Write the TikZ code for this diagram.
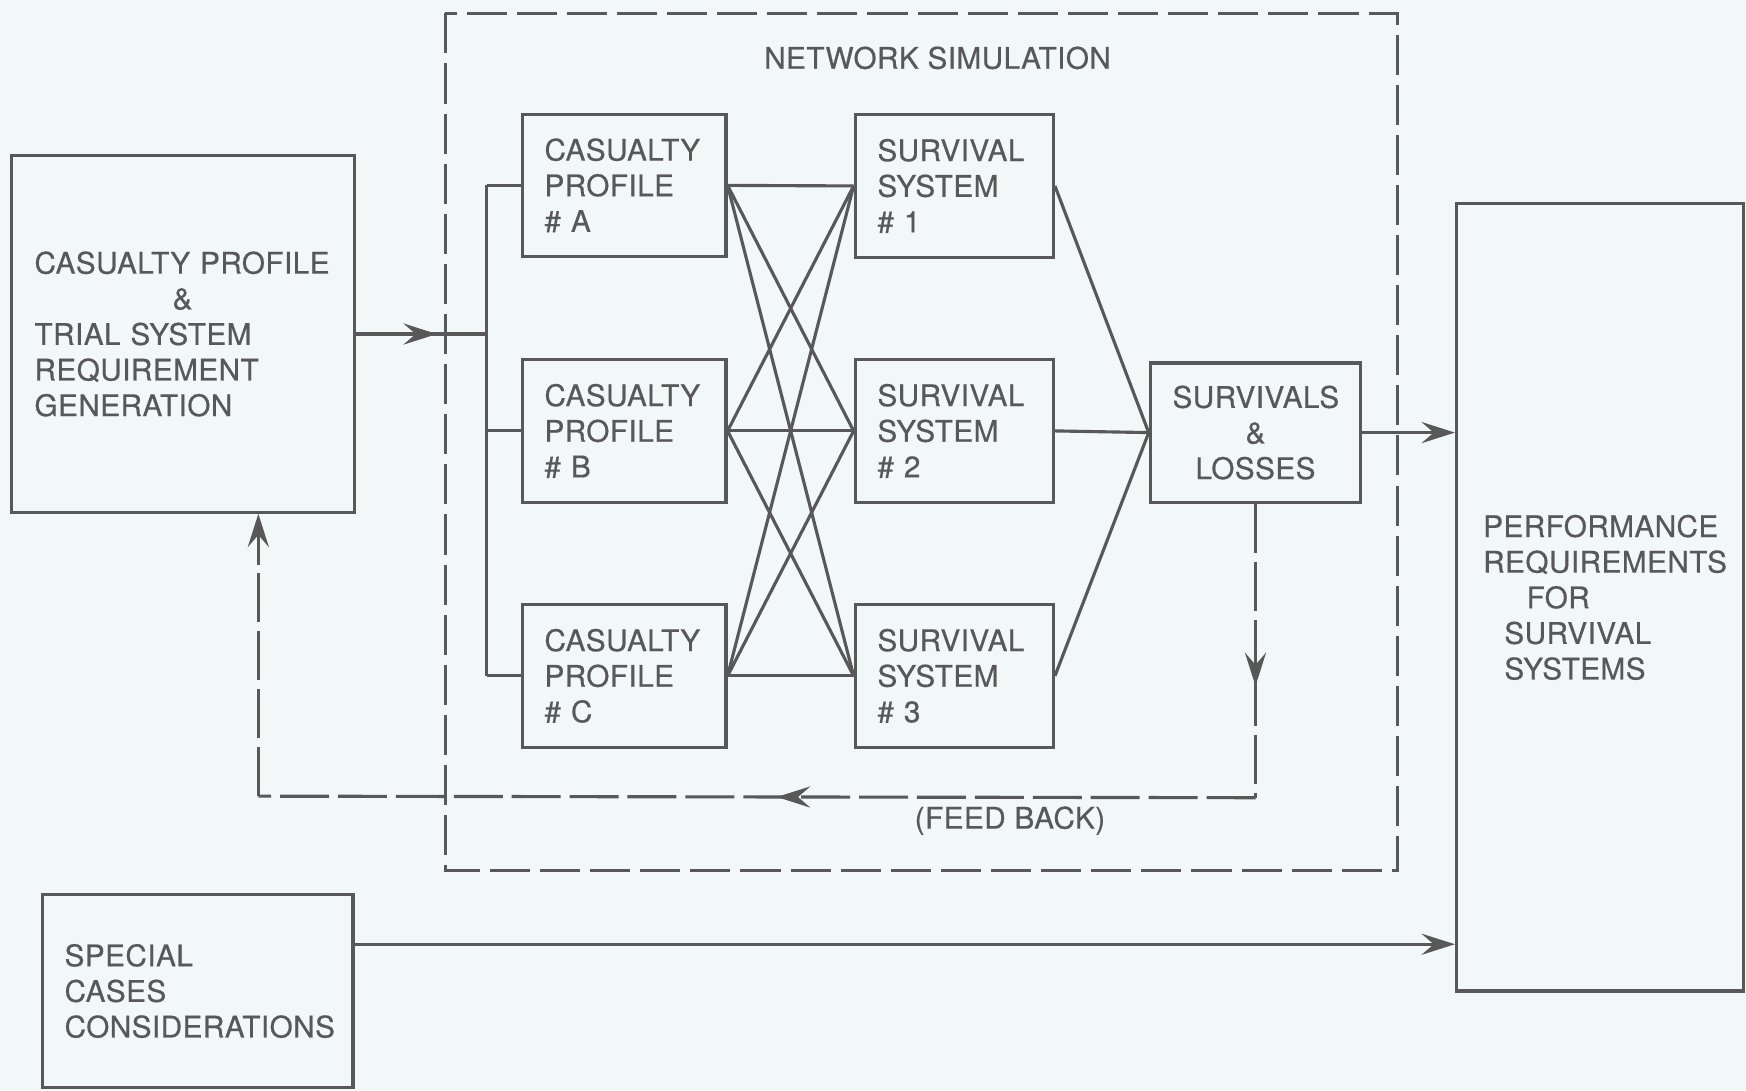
\documentclass[tikz,border=0pt]{standalone}
\usepackage{fontspec}
\setmainfont{TeX Gyre Heros}[FakeBold=0.5, LetterSpace=1.5]
\usetikzlibrary{arrows.meta,decorations.markings}
\definecolor{paper}{HTML}{F1F8F7}
\definecolor{ink}{HTML}{585858}

\begin{document}
\begin{tikzpicture}[x=0.1mm, y=-0.1mm, color=ink, line width=0.8pt,
    every node/.style={font=\fontsize{7.6}{9.1}\selectfont},
    box/.style={draw, line width=0.8pt, align=left, inner ysep=0pt},
    tip/.style={-{Stealth[length=3mm,width=1.9mm,inset=1.1mm]}},
    midtip/.style={postaction={decorate}, decoration={markings,
        mark=at position #1 with {\arrow{Stealth[length=3mm,width=1.9mm,inset=1.1mm]}}}},
    frame/.style={dash pattern=on 3.6mm off 0.9mm},
    fback/.style={dash pattern=on 4.4mm off 0.8mm}]
				\fill[paper] (0,0) rectangle (1568,979);
				\useasboundingbox (0,0) rectangle (1568,979);
				
				% Generazione
				\node[box, text width=26.6mm, inner xsep=2.1mm, minimum height=32mm] (gen) at (164,300)
				  {CASUALTY PROFILE\\\hspace*{12.4mm}\&\\TRIAL SYSTEM\\REQUIREMENT\\GENERATION};
				
				% Simulazione (riquadro tratteggiato)
				\draw[frame] (400,12) rectangle (1255,782);
				\node (title) at (842,52) {NETWORK SIMULATION};
				
				\node[box, text width=14.3mm, inner xsep=2mm, minimum height=12.7mm] (cpA) at (560.5,166.5) {CASUALTY\\PROFILE\\\# A};
				\node[box, text width=14.3mm, inner xsep=2mm, minimum height=12.8mm] (cpB) at (560.5,387) {CASUALTY\\PROFILE\\\# B};
				\node[box, text width=14.3mm, inner xsep=2mm, minimum height=12.8mm] (cpC) at (560.5,607) {CASUALTY\\PROFILE\\\# C};
				
				\node[box, text width=13.8mm, inner xsep=2mm, minimum height=12.8mm] (ss1) at (857,167) {SURVIVAL\\SYSTEM\\\# 1};
				\node[box, text width=13.8mm, inner xsep=2mm, minimum height=12.8mm] (ss2) at (857,387) {SURVIVAL\\SYSTEM\\\# 2};
				\node[box, text width=13.8mm, inner xsep=2mm, minimum height=12.8mm] (ss3) at (857,607) {SURVIVAL\\SYSTEM\\\# 3};
				
				\node[box, align=center, text width=14.9mm, inner xsep=2mm, minimum height=12.5mm] (sl) at (1127.5,388.5) {SURVIVALS\\\&\\LOSSES};
				
				% Uscita
				\node[box, text width=21mm, inner xsep=2.4mm, minimum height=70.7mm] (perf) at (1437,536.5)
				  {PERFORMANCE\\REQUIREMENTS\\\hspace*{3.9mm}FOR\\\hspace*{1.9mm}SURVIVAL\\\hspace*{1.9mm}SYSTEMS};
				\node[box, text width=23.9mm, inner xsep=2mm, minimum height=17.4mm] (spec) at (177.5,890)
				  {SPECIAL\\CASES\\CONSIDERATIONS};
				
				% Collegamenti
				\coordinate (bus) at (437,0);
				\draw[midtip=0.62] (gen.east) -- (gen.east -| bus);
				\draw (bus |- cpA.west) -- (bus |- cpC.west);
				\foreach \p in {A,B,C}
				  \draw (bus |- cp\p.west) -- (cp\p.west);
				\foreach \p in {A,B,C}
				  \foreach \s in {1,2,3}
				    \draw (cp\p.east) -- (ss\s.west);
				\foreach \s in {1,2,3}
				  \draw (ss\s.east) -- (sl.west);
				\draw[tip] (sl.east) -- (sl.east -| perf.west);
				\draw[tip] ([yshift=4.2mm]spec.east) -- ([yshift=4.2mm]spec.east -| perf.west);
				
				% Feed back
				\path (sl.south) ++(0,264) coordinate (fbR);
				\coordinate (fbL) at (232,715);
				\draw[fback, midtip=0.62] (sl.south) -- (fbR);
				\draw[fback, midtip=0.48] (fbR) -- (fbL);
				\draw[fback, tip] (fbL) -- (fbL |- gen.south);
				\node (fbtext) at (907,737) {(FEED BACK)};
			\end{tikzpicture}
\end{document}
